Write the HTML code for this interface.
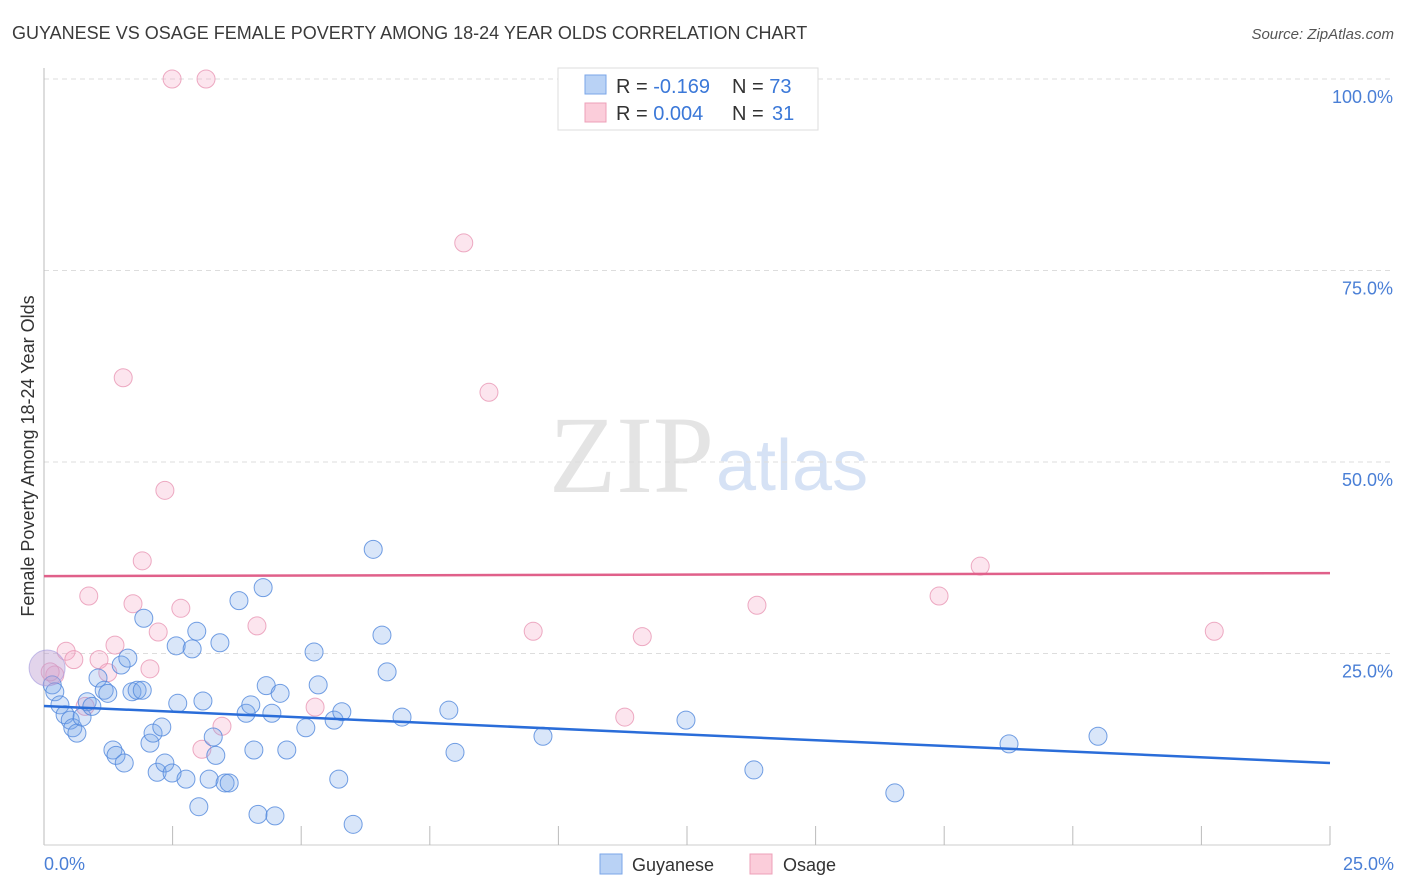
<!DOCTYPE html>
<html><head><meta charset="utf-8"><style>
body{margin:0;background:#fff;font-family:"Liberation Sans",sans-serif;}
svg{display:block}
</style></head><body>
<svg id="chart" width="1406" height="892" xmlns="http://www.w3.org/2000/svg">
<text x="12" y="39" font-size="18" fill="#3a3a3a">GUYANESE VS OSAGE FEMALE POVERTY AMONG 18-24 YEAR OLDS CORRELATION CHART</text>
<text x="1394" y="39" font-size="15" fill="#555" font-style="italic" text-anchor="end">Source: ZipAtlas.com</text>
<text x="714" y="492" font-size="110" fill="#e4e4e4" font-family="Liberation Serif,serif" text-anchor="end">ZIP</text>
<text x="716" y="490" font-size="72" fill="#d6e2f5">atlas</text>
<g id="grid"></g>
<g id="axes"></g>
<g id="marks"></g>
<text transform="translate(34,456) rotate(-90)" font-size="18" fill="#333" text-anchor="middle">Female Poverty Among 18-24 Year Olds</text>
<text x="44" y="870" font-size="18" fill="#4a7fd6">0.0%</text>
<text x="1394" y="870" font-size="18" fill="#4a7fd6" text-anchor="end">25.0%</text>
<g>
<rect x="558" y="68" width="260" height="62" fill="#fff" stroke="#ddd"/>
<rect x="585" y="75" width="21" height="19" fill="#b9d2f5" stroke="#7aa6e8"/>
<rect x="585" y="103" width="21" height="19" fill="#fbcdda" stroke="#eea0b8"/>
<text x="616" y="93" font-size="20" fill="#333">R = <tspan fill="#3b78d8">-0.169</tspan><tspan x="732">N = </tspan><tspan fill="#3b78d8">73</tspan></text>
<text x="616" y="120" font-size="20" fill="#333">R = <tspan fill="#3b78d8">0.004</tspan><tspan x="732">N = </tspan><tspan fill="#3b78d8" x="772">31</tspan></text>
</g>
<g>
<rect x="600" y="854" width="22" height="20" fill="#b9d2f5" stroke="#7aa6e8"/>
<text x="632" y="871" font-size="18" fill="#333">Guyanese</text>
<rect x="750" y="854" width="22" height="20" fill="#fbcdda" stroke="#eea0b8"/>
<text x="783" y="871" font-size="18" fill="#333">Osage</text>
</g>
</svg>
<script>
const yTicks=[25,50,75,100];
const yTickLabels=["25.0%","50.0%","75.0%","100.0%"];
const xTickCount=10;
const blueX=[0.16,0.21,0.31,0.41,0.51,0.56,0.64,0.74,0.84,0.93,1.05,1.17,1.24,1.34,1.40,1.50,1.56,1.63,1.71,1.81,1.91,1.94,2.06,2.12,2.20,2.29,2.35,2.49,2.57,2.60,2.76,2.88,2.97,3.01,3.09,3.21,3.29,3.34,3.42,3.52,3.60,3.79,3.93,4.02,4.08,4.16,4.26,4.32,4.43,4.49,4.59,4.72,5.09,5.25,5.33,5.64,5.73,5.79,6.01,6.40,6.57,6.67,6.96,7.87,7.99,9.70,12.48,13.80,16.54,18.76,20.49,0.06];
const blueY=[20.9,20.0,18.3,17.0,16.3,15.3,14.6,16.7,18.7,18.1,21.8,20.2,19.8,12.4,11.7,23.5,10.7,24.4,20.0,20.2,20.2,29.6,13.3,14.6,9.5,15.4,10.7,9.4,26.0,18.5,8.6,25.6,27.9,5.0,18.8,8.6,14.1,11.7,26.4,8.1,8.1,31.9,17.2,18.3,12.4,4.0,33.6,20.8,17.2,3.8,19.8,12.4,15.3,25.2,20.9,16.3,8.6,17.4,2.7,38.6,27.4,22.6,16.7,17.6,12.1,14.2,16.3,9.8,6.8,13.2,14.2,23.1];
const pinkX=[2.49,3.15,8.16,1.54,8.65,2.35,1.91,0.87,1.73,2.66,4.14,2.22,1.38,0.43,0.58,1.07,2.06,1.24,0.21,0.80,5.27,3.07,3.46,9.51,11.29,11.63,13.86,17.40,18.20,22.75,0.12];
const pinkY=[100,100,78.6,61.0,59.1,46.3,37.1,32.5,31.5,30.9,28.6,27.8,26.1,25.3,24.2,24.2,23.0,22.5,22.2,18.1,18.0,12.5,15.5,27.9,16.7,27.2,31.3,32.5,36.4,27.9,22.6];
const blueTrend=[18.15,10.7];
const pinkTrend=[35.1,35.5];
const NS="http://www.w3.org/2000/svg";
const X0=44,X1=1330,Y0=845,Y100=79;
const sx=v=>X0+(v/25)*(X1-X0);
const sy=v=>Y0-(v/100)*(Y0-Y100);
function mk(tag,attrs,parent){const e=document.createElementNS(NS,tag);for(const k in attrs)e.setAttribute(k,attrs[k]);parent.appendChild(e);return e;}
const grid=document.getElementById('grid'),axes=document.getElementById('axes'),marks=document.getElementById('marks');
yTicks.forEach((t,i)=>{
  const l=mk('line',{x1:X0,x2:1393,y1:sy(t),y2:sy(t),stroke:'#ddd','stroke-dasharray':'5,4'},grid);
  
  
  const tx=mk('text',{x:1393,y:sy(t)+24,'font-size':18,fill:'#4a7fd6','text-anchor':'end'},grid);
  tx.textContent=yTickLabels[i];
  
  
});
const ya=mk('line',{x1:X0,x2:X0,y1:68,y2:Y0,stroke:'#bbb'},axes);


const xa=mk('line',{x1:X0,x2:X1,y1:Y0,y2:Y0,stroke:'#ccc'},axes);


for(let i=1;i<=xTickCount;i++){
  const x=sx(25*i/xTickCount);
  const t=mk('line',{x1:x,x2:x,y1:826,y2:Y0,stroke:'#bbb'},axes);
  
  
}
function dots(xs,ys,fill,stroke,name){
  xs.forEach((v,i)=>{
    const big=(name==='guyanese-point'&&i===xs.length-1);
    const c=mk('circle',{cx:sx(v),cy:sy(ys[i]),r:big?18:9,fill:big?'rgba(190,160,210,0.45)':fill,stroke:big?'rgba(160,150,220,0.6)':stroke,'stroke-width':1},marks);
    
    
  });
}
dots(pinkX,pinkY,'rgba(246,170,198,0.3)','rgba(232,150,180,0.8)','osage-point');
dots(blueX,blueY,'rgba(120,165,235,0.28)','rgba(80,135,220,0.8)','guyanese-point');
const bl=mk('line',{x1:sx(0),x2:sx(25),y1:sy(blueTrend[0]),y2:sy(blueTrend[1]),stroke:'#2a6dd9','stroke-width':2.5},marks);


const pl=mk('line',{x1:sx(0),x2:sx(25),y1:sy(pinkTrend[0]),y2:sy(pinkTrend[1]),stroke:'#e0608a','stroke-width':2.5},marks);


</script>
</body></html>
